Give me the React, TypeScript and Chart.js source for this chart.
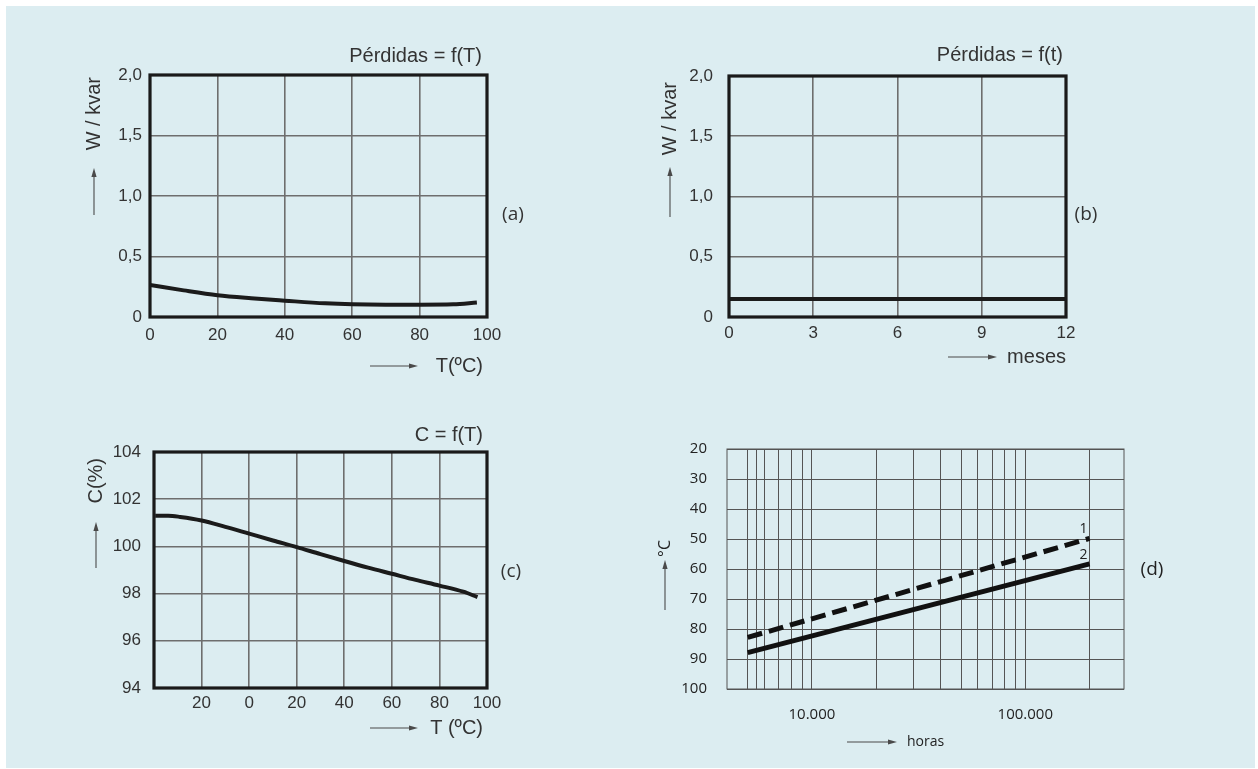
import React, { useEffect, useRef } from "react";
import { Chart, registerables } from "chart.js";

Chart.register(...registerables);

// ---------------- data ----------------
// (a) Pérdidas = f(T)
const tempA = [0, 10, 20, 30, 40, 52, 60, 70, 80, 90, 97];
const lossA = [0.265, 0.22, 0.18, 0.155, 0.135, 0.113, 0.105, 0.102, 0.102, 0.105, 0.12];
const xTicksA = ["0", "20", "40", "60", "80", "100"];
const yTicksLoss = ["0", "0,5", "1,0", "1,5", "2,0"];

// (b) Pérdidas = f(t)
const monthsB = [0, 12];
const lossB = [0.15, 0.15];
const xTicksB = ["0", "3", "6", "9", "12"];

// (c) C = f(T)
const tempC = [-39.5, -34, -29, -20, -10, 0, 10, 20, 30, 40, 50, 60, 70, 80, 90, 96];
const capC = [101.3, 101.3, 101.25, 101.1, 100.83, 100.54, 100.25, 99.97, 99.67, 99.38, 99.1, 98.84, 98.58, 98.34, 98.08, 97.85];
const xTicksC = ["", "20", "0", "20", "40", "60", "80", "100"];
const yTicksC = ["94", "96", "98", "100", "102", "104"];

// (d) temperatura / horas
const hoursD = [5000, 200000];
const tempD1 = [82.8, 49.8];
const tempD2 = [87.9, 58.3];
const gridHoursD = [5000, 5500, 6000, 7000, 8000, 9000, 10000, 20000, 30000, 40000, 50000, 60000, 70000, 80000, 90000, 100000, 200000];
const xLabelsD: Record<number, string> = { 10000: "10.000", 100000: "100.000" };
const yValuesD = [20, 30, 40, 50, 60, 70, 80, 90, 100];
const yTicksD = ["20", "30", "40", "50", "60", "70", "80", "90", "100"];
const seriesLabelsD = ["1", "2"];

// texts
const TITLE_A = "Pérdidas = f(T)";
const TITLE_B = "Pérdidas = f(t)";
const TITLE_C = "C = f(T)";
const YTITLE_LOSS = "W / kvar";
const YTITLE_C = "C(%)";
const YTITLE_D = "°C";
const XTITLE_A = "T(ºC)";
const XTITLE_B = "meses";
const XTITLE_C = "T (ºC)";
const XTITLE_D = "horas";

// ---------------- styles ----------------
const BG = "#dcedf1";
const SANS = '"Liberation Sans", Arial, sans-serif';
const ROUND = '"Open Sans", "Noto Sans", sans-serif';
const TEXT = "#333333";
const GRID = "#6e6e6e";
const LINE = "#1b1b1b";

type CA = { left: number; top: number; right: number; bottom: number };
type TextSpec = { text: string; x: number; y: number; align: CanvasTextAlign; font: string; rotate?: boolean; color?: string };
type ArrowSpec = { x1: number; y1: number; x2: number; y2: number };
type DecorOut = { frame: { color: string; width: number }; texts: TextSpec[]; arrows: ArrowSpec[] };

function drawArrow(ctx: CanvasRenderingContext2D, a: ArrowSpec) {
  const ang = Math.atan2(a.y2 - a.y1, a.x2 - a.x1);
  const len = 9;
  const hw = 2.6;
  ctx.strokeStyle = "#4a4a4a";
  ctx.fillStyle = "#4a4a4a";
  ctx.lineWidth = 1.1;
  ctx.beginPath();
  ctx.moveTo(a.x1, a.y1);
  ctx.lineTo(a.x2 - Math.cos(ang) * len * 0.6, a.y2 - Math.sin(ang) * len * 0.6);
  ctx.stroke();
  ctx.beginPath();
  ctx.moveTo(a.x2, a.y2);
  const bx = a.x2 - Math.cos(ang) * len;
  const by = a.y2 - Math.sin(ang) * len;
  ctx.lineTo(bx + Math.sin(ang) * hw, by - Math.cos(ang) * hw);
  ctx.lineTo(bx - Math.sin(ang) * hw, by + Math.cos(ang) * hw);
  ctx.closePath();
  ctx.fill();
}

function decorPlugin(build: (ca: CA, chart: any) => DecorOut) {
  return {
    id: "decor",
    afterDraw(chart: any) {
      const ctx: CanvasRenderingContext2D = chart.ctx;
      const ca: CA = chart.chartArea;
      const d = build(ca, chart);
      ctx.save();
      ctx.strokeStyle = d.frame.color;
      ctx.lineWidth = d.frame.width;
      ctx.strokeRect(ca.left, ca.top, ca.right - ca.left, ca.bottom - ca.top);
      for (const a of d.arrows) drawArrow(ctx, a);
      for (const t of d.texts) {
        ctx.save();
        ctx.font = t.font;
        ctx.fillStyle = t.color || TEXT;
        ctx.textBaseline = "middle";
        ctx.textAlign = t.align;
        ctx.translate(t.x, t.y);
        if (t.rotate) ctx.rotate(-Math.PI / 2);
        ctx.fillText(t.text, 0, 0);
        ctx.restore();
      }
      ctx.restore();
    },
  };
}

const tickFont = { family: SANS, size: 17 };

function linearAxis(o: any) {
  return {
    type: "linear",
    min: o.min,
    max: o.max,
    reverse: !!o.reverse,
    ticks: {
      stepSize: o.step,
      padding: o.padding,
      font: o.font || tickFont,
      color: o.color || TEXT,
      autoSkip: false,
      maxRotation: 0,
      callback: o.callback || ((_v: any, i: number) => o.labels[i]),
    },
    grid: { color: o.gridColor || GRID, lineWidth: o.gridWidth || 1.6, drawTicks: false },
    border: { display: false },
    afterFit: (s: any) => {
      if (o.width !== undefined) s.width = o.width;
      if (o.height !== undefined) s.height = o.height;
    },
  };
}

function baseOptions(padding: any, scales: any) {
  return {
    responsive: false,
    animation: false,
    devicePixelRatio: 1,
    events: [],
    layout: { padding },
    plugins: { legend: { display: false }, tooltip: { enabled: false }, title: { display: false } },
    scales,
  };
}

const T20 = `20px ${SANS}`;
const L19 = `19px ${ROUND}`;

function configA() {
  return {
    type: "line",
    data: {
      datasets: [
        {
          data: tempA.map((x, i) => ({ x, y: lossA[i] })),
          borderColor: LINE,
          borderWidth: 4,
          pointRadius: 0,
          cubicInterpolationMode: "monotone",
        },
      ],
    },
    options: baseOptions({ left: 0, top: 55, right: 83, bottom: 0 }, {
      x: linearAxis({ min: 0, max: 100, step: 20, padding: 8, labels: xTicksA, height: 83 }),
      y: linearAxis({ min: 0, max: 2, step: 0.5, padding: 8, labels: yTicksLoss, width: 120 }),
    }),
    plugins: [
      decorPlugin((ca) => ({
        frame: { color: "#1a1a1a", width: 3.2 },
        arrows: [
          { x1: ca.left - 56, y1: ca.top + 140, x2: ca.left - 56, y2: ca.top + 93 },
          { x1: ca.right - 117, y1: ca.bottom + 49, x2: ca.right - 69, y2: ca.bottom + 49 },
        ],
        texts: [
          { text: TITLE_A, x: ca.right - 5, y: ca.top - 19, align: "right", font: T20 },
          { text: YTITLE_LOSS, x: ca.left - 56, y: ca.top + 2, align: "right", font: T20, rotate: true },
          { text: XTITLE_A, x: ca.right - 4, y: ca.bottom + 49, align: "right", font: T20 },
          { text: "(a)", x: ca.right + 26, y: ca.top + 140, align: "center", font: L19 },
        ],
      })),
    ],
  };
}

function configB() {
  return {
    type: "line",
    data: {
      datasets: [
        {
          data: monthsB.map((x, i) => ({ x, y: lossB[i] })),
          borderColor: LINE,
          borderWidth: 4,
          pointRadius: 0,
        },
      ],
    },
    options: baseOptions({ left: 0, top: 56, right: 84, bottom: 0 }, {
      x: linearAxis({ min: 0, max: 12, step: 3, padding: 6, labels: xTicksB, height: 83 }),
      y: linearAxis({ min: 0, max: 2, step: 0.5, padding: 16, labels: yTicksLoss, width: 119 }),
    }),
    plugins: [
      decorPlugin((ca) => ({
        frame: { color: "#1a1a1a", width: 3.2 },
        arrows: [
          { x1: ca.left - 59, y1: ca.top + 141, x2: ca.left - 59, y2: ca.top + 91 },
          { x1: ca.right - 118, y1: ca.bottom + 40, x2: ca.right - 69, y2: ca.bottom + 40 },
        ],
        texts: [
          { text: TITLE_B, x: ca.right - 3, y: ca.top - 21, align: "right", font: T20 },
          { text: YTITLE_LOSS, x: ca.left - 59, y: ca.top + 6, align: "right", font: T20, rotate: true },
          { text: XTITLE_B, x: ca.right, y: ca.bottom + 40, align: "right", font: T20 },
          { text: "(b)", x: ca.right + 20, y: ca.top + 139, align: "center", font: L19 },
        ],
      })),
    ],
  };
}

function configC() {
  return {
    type: "line",
    data: {
      datasets: [
        {
          data: tempC.map((x, i) => ({ x, y: capC[i] })),
          borderColor: LINE,
          borderWidth: 4,
          pointRadius: 0,
          cubicInterpolationMode: "monotone",
        },
      ],
    },
    options: baseOptions({ left: 0, top: 52, right: 83, bottom: 0 }, {
      x: linearAxis({ min: -40, max: 100, step: 20, padding: 5, labels: xTicksC, height: 80 }),
      y: linearAxis({ min: 94, max: 104, step: 2, padding: 13, labels: yTicksC, width: 124 }),
    }),
    plugins: [
      decorPlugin((ca) => ({
        frame: { color: "#1a1a1a", width: 3.2 },
        arrows: [
          { x1: ca.left - 58, y1: ca.top + 116, x2: ca.left - 58, y2: ca.top + 70 },
          { x1: ca.right - 117, y1: ca.bottom + 40, x2: ca.right - 69, y2: ca.bottom + 40 },
        ],
        texts: [
          { text: TITLE_C, x: ca.right - 4, y: ca.top - 17, align: "right", font: T20 },
          { text: YTITLE_C, x: ca.left - 58, y: ca.top + 6, align: "right", font: T20, rotate: true },
          { text: XTITLE_C, x: ca.right - 4, y: ca.bottom + 40, align: "right", font: T20 },
          { text: "(c)", x: ca.right + 24, y: ca.top + 120, align: "center", font: L19 },
        ],
      })),
    ],
  };
}

function configD() {
  const dFont = { family: ROUND, size: 15 };
  return {
    type: "line",
    data: {
      datasets: [
        {
          data: hoursD.map((x, i) => ({ x, y: tempD1[i] })),
          borderColor: "#111",
          borderWidth: 5,
          borderDash: [15, 7],
          pointRadius: 0,
        },
        {
          data: hoursD.map((x, i) => ({ x, y: tempD2[i] })),
          borderColor: "#111",
          borderWidth: 5,
          pointRadius: 0,
        },
      ],
    },
    options: baseOptions({ left: 0, top: 49, right: 86, bottom: 0 }, {
      x: {
        type: "logarithmic",
        min: 4000,
        max: 290000,
        afterBuildTicks: (s: any) => {
          s.ticks = gridHoursD.map((v) => ({ value: v }));
        },
        ticks: {
          autoSkip: false,
          maxRotation: 0,
          padding: 17,
          font: dFont,
          color: "#222",
          callback: (v: any) => xLabelsD[Number(v)] ?? "",
        },
        grid: { color: "#555", lineWidth: 1, drawTicks: false },
        border: { display: false },
        afterFit: (s: any) => {
          s.height = 79;
        },
      },
      y: linearAxis({
        min: 20,
        max: 100,
        step: 10,
        reverse: true,
        padding: 20,
        callback: (v: any) => yTicksD[yValuesD.indexOf(Number(v))] ?? "",
        width: 117,
        font: dFont,
        color: "#222",
        gridColor: "#555",
        gridWidth: 1,
      }),
    }),
    plugins: [
      decorPlugin((ca, chart) => {
        const xs = chart.scales.x;
        const ys = chart.scales.y;
        const last = hoursD.length - 1;
        const ex = xs.getPixelForValue(hoursD[last]);
        return {
          frame: { color: "#555", width: 1 },
          arrows: [
            { x1: ca.left - 62, y1: ca.top + 161, x2: ca.left - 62, y2: ca.top + 111 },
            { x1: ca.left + 120, y1: ca.bottom + 53, x2: ca.left + 170, y2: ca.bottom + 53 },
          ],
          texts: [
            { text: YTITLE_D, x: ca.left - 62, y: ca.top + 91, align: "right", font: `16px ${ROUND}`, rotate: true, color: "#222" },
            { text: XTITLE_D, x: ca.left + 180, y: ca.bottom + 53, align: "left", font: `14px ${ROUND}`, color: "#222" },
            { text: "(d)", x: ca.right + 28, y: ca.top + 121, align: "center", font: L19, color: "#222" },
            { text: seriesLabelsD[0], x: ex - 6, y: ys.getPixelForValue(tempD1[last]) - 9, align: "center", font: `14px ${ROUND}`, color: "#222" },
            { text: seriesLabelsD[1], x: ex - 6, y: ys.getPixelForValue(tempD2[last]) - 9, align: "center", font: `14px ${ROUND}`, color: "#222" },
          ],
        };
      }),
    ],
  };
}

type Rect = { x: number; y: number; w: number; h: number };

function Panel({ rect, make }: { rect: Rect; make: () => any }) {
  const ref = useRef<HTMLCanvasElement>(null);
  useEffect(() => {
    const chart = new Chart(ref.current as HTMLCanvasElement, make());
    return () => chart.destroy();
  }, [make]);
  return (
    <canvas
      ref={ref}
      width={rect.w}
      height={rect.h}
      style={{ position: "absolute", left: rect.x, top: rect.y, width: rect.w, height: rect.h }}
    />
  );
}

export default function App() {
  return (
    <div style={{ position: "absolute", left: 0, top: 0, width: 1258, height: 769, background: "#ffffff", overflow: "hidden" }}>
      <div style={{ position: "absolute", left: 6, top: 6, width: 1249, height: 762, background: BG }} />
      <Panel rect={{ x: 30, y: 20, w: 540, h: 380 }} make={configA} />
      <Panel rect={{ x: 610, y: 20, w: 540, h: 380 }} make={configB} />
      <Panel rect={{ x: 30, y: 400, w: 540, h: 368 }} make={configC} />
      <Panel rect={{ x: 610, y: 400, w: 600, h: 368 }} make={configD} />
    </div>
  );
}
